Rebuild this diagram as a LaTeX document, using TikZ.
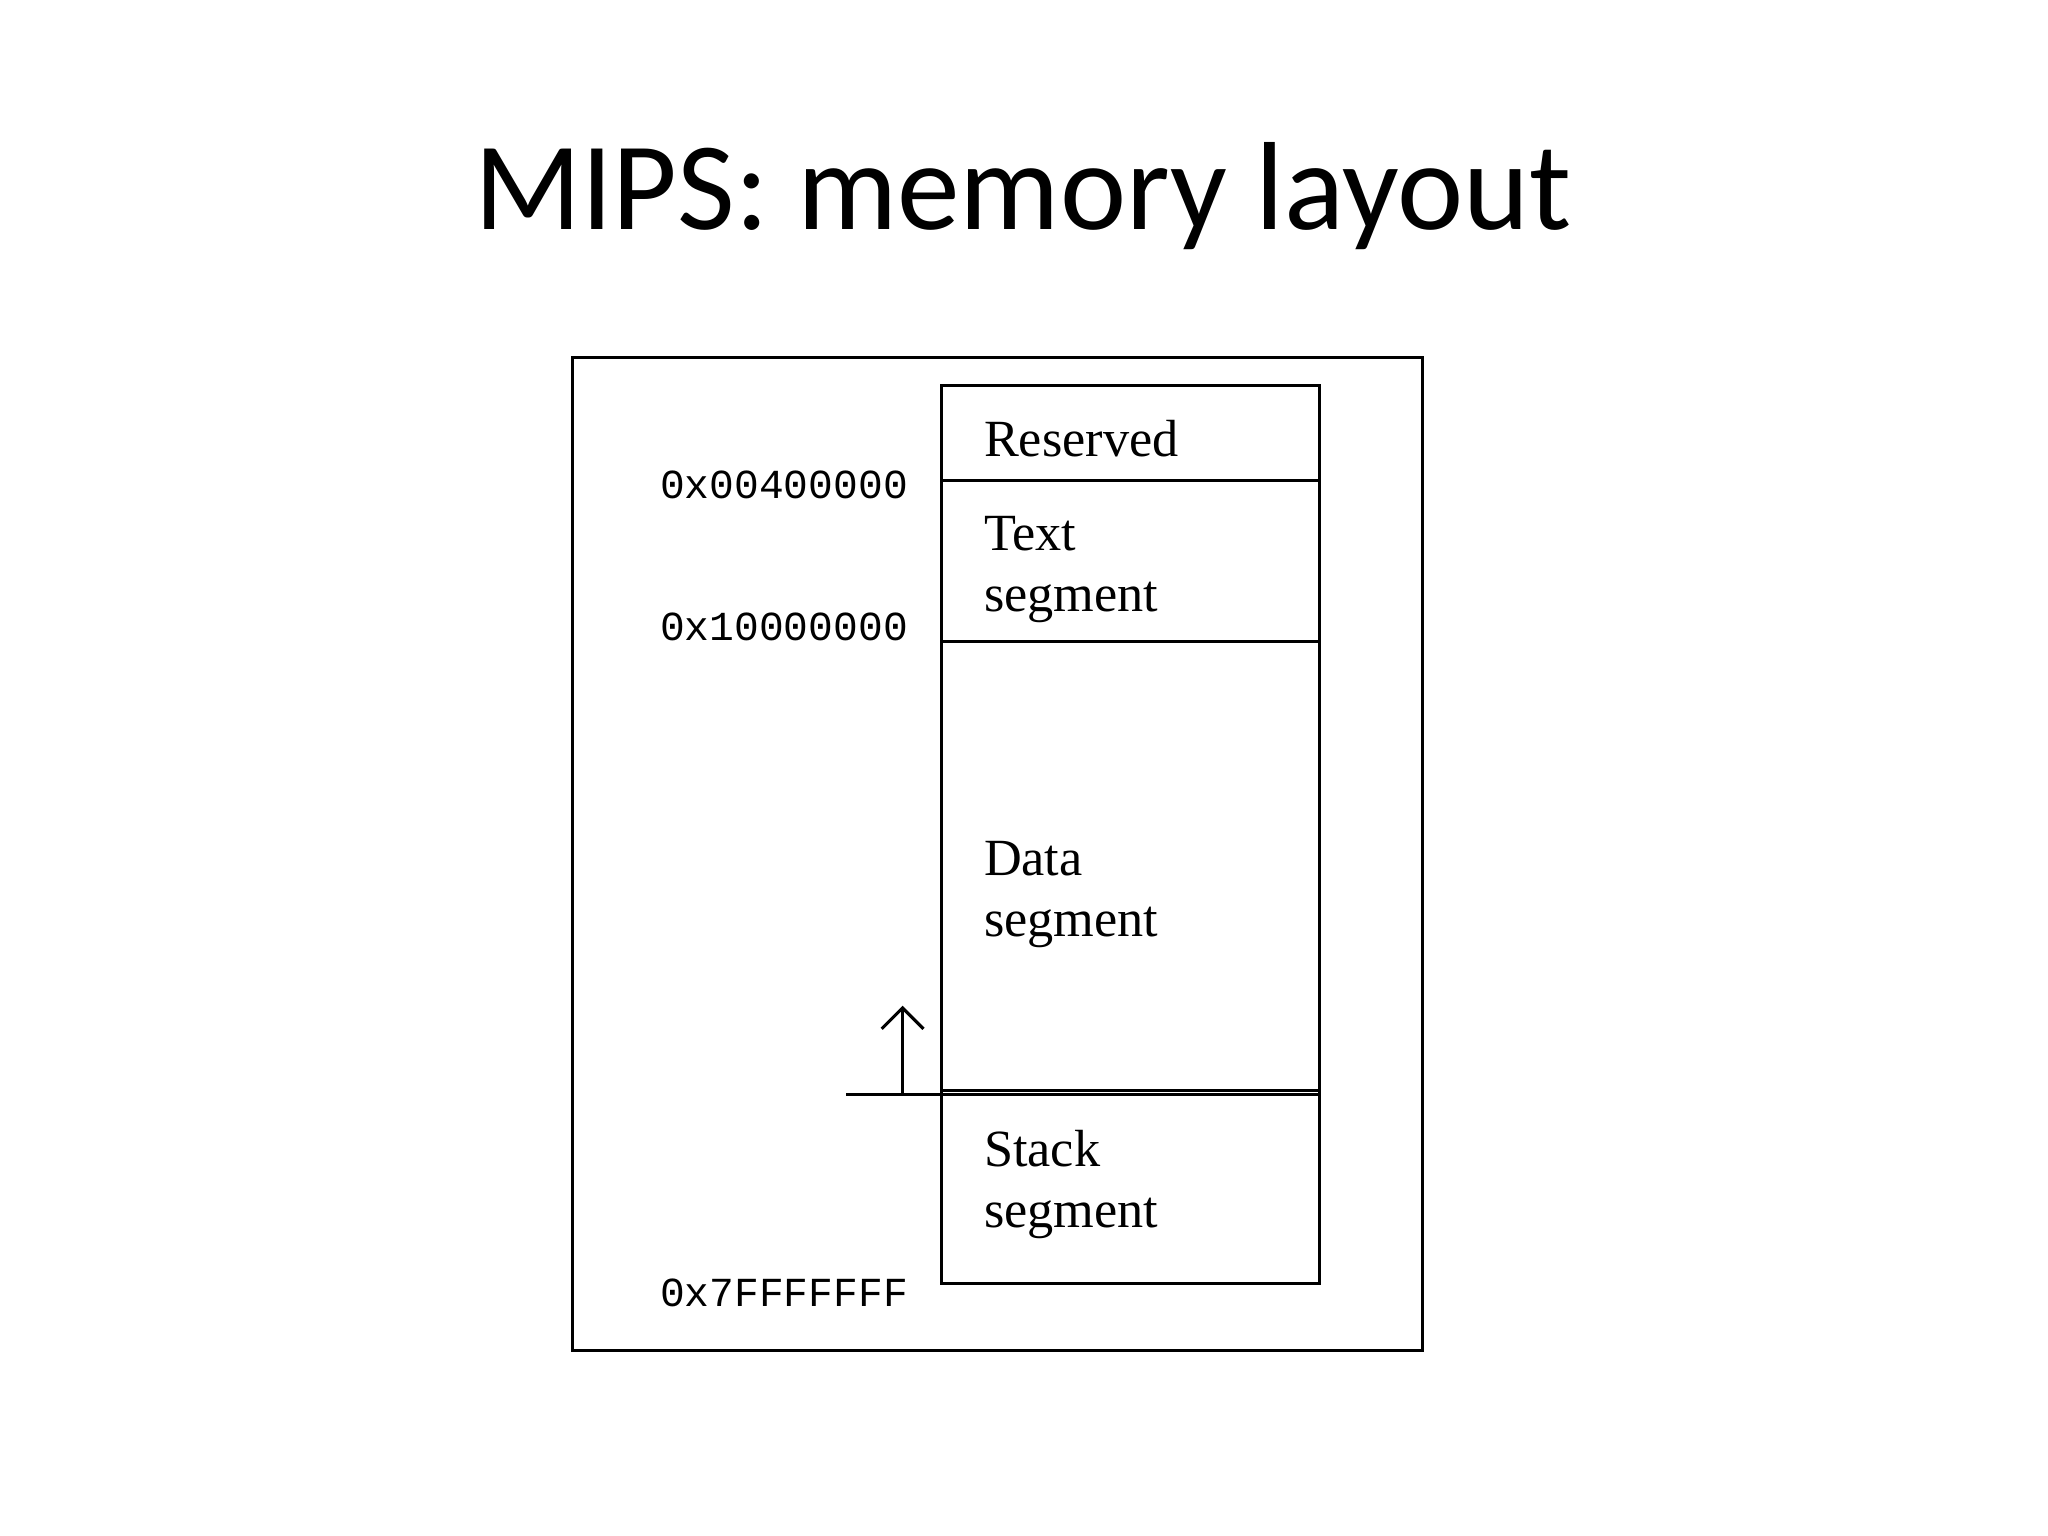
\documentclass[tikz,border=0pt]{standalone}
\usepackage{fontspec}
\setmainfont{Liberation Serif}
\newfontfamily\titlefont{Carlito}
\newfontfamily\addrfont{Liberation Mono}
\usetikzlibrary{arrows.meta}
\begin{document}
\begin{tikzpicture}[x=0.5pt,y=0.5pt,yscale=-1,
  seg/.style={anchor=west,align=left,inner sep=0pt,font=\fontsize{20}{23.5}\selectfont},
  addr/.style={anchor=west,inner sep=0pt,font=\addrfont\fontsize{15.8}{18}\selectfont},
  box/.style={line width=1.2pt}]
\useasboundingbox (0,0) rectangle (1568,1176);

% Title
\node (title) at (783,150) {\titlefont\fontsize{48}{54}\selectfont MIPS: memory layout};

% Frame
\draw [line width=1.1pt] (438,274) rectangle (1089,1034);

% Segment boundaries
\coordinate (top) at (721,295);
\coordinate (res) at (721,368);
\coordinate (txt) at (721,491);
\coordinate (dat) at (721,835);
\coordinate (stk) at (721,838);
\coordinate (bot) at (1010,983);

\draw [box] (top) rectangle (bot);
\draw [box] (res) -- ++(289,0);
\draw [box] (txt) -- ++(289,0);
\draw [box] (dat) -- ++(289,0);
\draw [box] (stk) -- ++(289,0);

% Labels
\node [seg] (reserved) at (753,336) {Reserved};
\node [seg] (text) at (753,436) {Text\\segment};
\node [seg] (data) at (753,685) {Data\\segment};
\node [seg] (stack) at (753,907) {Stack\\segment};

% Addresses
\node [addr] (a1) at (505,371) {0x00400000};
\node [addr] (a2) at (505,480) {0x10000000};
\node [addr] (a3) at (505,990) {0x7FFFFFFF};

% Stack pointer
\coordinate (sp) at (648,838);
\coordinate (up) at (691,770);
\draw [box] (sp) -- (stk);
\draw [box,-{Straight Barb[length=8pt,width=16pt]}] (691,838) -- (up);

\end{tikzpicture}
\end{document}
